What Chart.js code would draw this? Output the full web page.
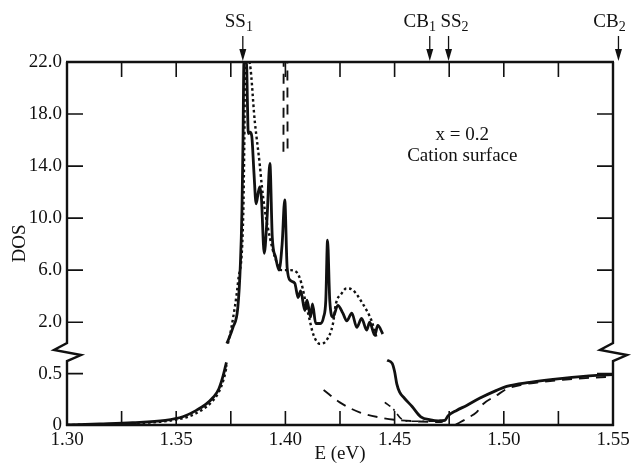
<!DOCTYPE html>
<html>
<head>
<meta charset="utf-8">
<script src="https://cdn.jsdelivr.net/npm/chart.js@4.4.1/dist/chart.umd.min.js"></script>
<style>
html,body{margin:0;padding:0;background:#fff;}
#wrap{width:640px;height:466px;position:relative;}
</style>
</head>
<body>
<div id="wrap"><canvas id="c" width="640" height="466"></canvas></div>
<script>
// ---------------- DATA ----------------
// x axis (energy, eV)
const xLabelValues = [1.30, 1.35, 1.40, 1.45, 1.50, 1.55];
const xTickMarks = [1.325, 1.35, 1.375, 1.40, 1.425, 1.45, 1.475, 1.50, 1.525];
// y axis (DOS) — broken axis: lower section 0..0.5, upper section 2..22
const yTickValues = [0, 0.5, 2, 6, 10, 14, 18, 22];
const yTickSections = ['lower', 'lower', 'upper', 'upper', 'upper', 'upper', 'upper', 'upper'];
const yTickLabels = ['0', '0.5', '2.0', '6.0', '10.0', '14.0', '18.0', '22.0'];

// solid curve
const solidLowerLeftE = [1.300, 1.315, 1.330, 1.345, 1.353, 1.359, 1.3635, 1.3670, 1.3695, 1.3715, 1.3730];
const solidLowerLeftV = [0.000, 0.010, 0.022, 0.045, 0.080, 0.140, 0.200, 0.270, 0.350, 0.480, 0.610];
const solidUpperE = [1.3732, 1.3760, 1.3782, 1.3794, 1.3801, 1.3806, 1.3810, 1.3822, 1.3826, 1.3830, 1.3838, 1.3846, 1.3856, 1.3866, 1.3876, 1.3883, 1.3890, 1.3903, 1.3916, 1.3929, 1.3940, 1.3955, 1.3971, 1.3985, 1.3997, 1.4008, 1.4023, 1.4043, 1.4058, 1.4070, 1.4089, 1.4099, 1.4115, 1.4124, 1.4139, 1.4160, 1.4175, 1.4185, 1.4193, 1.4203, 1.4218, 1.4240, 1.4263, 1.4281, 1.4304, 1.4327, 1.4349, 1.4372, 1.4386, 1.4409, 1.4423, 1.4446];
const solidUpperV = [0.36, 1.6, 3.1, 6.5, 10.5, 16.0, 22.0, 22.0, 19.0, 16.5, 16.6, 16.3, 13.5, 11.1, 12.0, 12.4, 11.6, 7.3, 10.0, 14.2, 8.5, 7.0, 6.0, 8.0, 11.4, 6.2, 5.2, 5.0, 3.9, 4.4, 2.9, 3.7, 2.4, 3.4, 1.9, 1.9, 2.4, 3.7, 8.3, 3.7, 2.4, 3.3, 2.7, 2.1, 2.7, 1.6, 2.3, 1.4, 2.0, 1.0, 1.75, 1.1];
const solidLowerRightE = [1.4466, 1.4489, 1.4500, 1.4510, 1.4523, 1.4545, 1.4580, 1.4620, 1.4665, 1.4700, 1.4730, 1.4745, 1.4784, 1.4830, 1.4889, 1.4967, 1.5013, 1.5118, 1.5269, 1.5425, 1.5500];
const solidLowerRightV = [0.63, 0.60, 0.52, 0.40, 0.32, 0.26, 0.18, 0.08, 0.05, 0.040, 0.045, 0.09, 0.142, 0.19, 0.26, 0.337, 0.376, 0.415, 0.454, 0.483, 0.49];

// dotted curve
const dottedLowerE = [1.300, 1.320, 1.335, 1.348, 1.356, 1.362, 1.3665, 1.3695, 1.3718, 1.3732];
const dottedLowerV = [0.000, 0.008, 0.020, 0.045, 0.085, 0.150, 0.230, 0.320, 0.450, 0.580];
const dottedUpperE = [1.3737, 1.3753, 1.3784, 1.3807, 1.3812, 1.3816, 1.3834, 1.3860, 1.3883, 1.3891, 1.3906, 1.3929, 1.3952, 1.3982, 1.4020, 1.4051, 1.4074, 1.4094, 1.4108, 1.4127, 1.4157, 1.4188, 1.4218, 1.4231, 1.4257, 1.4280, 1.4310, 1.4355, 1.4394, 1.4417];
const dottedUpperV = [0.36, 1.6, 5.2, 10.3, 16.0, 22.0, 22.0, 17.4, 14.05, 12.65, 10.6, 8.5, 7.0, 6.0, 6.0, 5.85, 4.95, 3.4, 2.4, 1.1, 0.34, 0.6, 1.9, 3.4, 4.2, 4.6, 4.45, 3.4, 2.13, 0.85];

// long-dashed curve
const dashSpikeE = [1.3991, 1.3992, 1.4009, 1.4010];
const dashSpikeV = [15.1, 22.0, 22.0, 15.1];
const dashLowerAE = [1.4175, 1.4249, 1.4340, 1.4432, 1.4510, 1.4615, 1.4693, 1.4720];
const dashLowerAV = [0.34, 0.22, 0.123, 0.073, 0.049, 0.034, 0.029, 0.030];
const dashLowerBE = [1.4780, 1.4800, 1.4840, 1.4876, 1.4898, 1.4967, 1.5013, 1.5080, 1.5160, 1.5270, 1.5400, 1.5500];
const dashLowerBV = [0.005, 0.027, 0.075, 0.125, 0.190, 0.288, 0.350, 0.390, 0.415, 0.440, 0.460, 0.470];

// dash-dot curve
const dashDotE = [1.4455, 1.4493, 1.4531, 1.4569, 1.4661, 1.4714];
const dashDotV = [0.22, 0.157, 0.06, 0.037, 0.037, 0.044];

// band-edge markers at top
const markerE = [1.3805, 1.4661, 1.4747, 1.5525];
const markerMain = ['SS', 'CB', 'SS', 'CB'];
const markerSub = ['1', '1', '2', '2'];

// annotation
const annotLines = ['x = 0.2', 'Cation surface'];
const annotE = 1.481;
const annotV = [16.0, 14.4];

// ---------------- LAYOUT / STYLE ----------------
const INK = '#111111';
const SERIF = '"Liberation Serif", "Times New Roman", serif';
const LOWER_K = 7.9;      // virtual units per DOS unit in lower section
const UPPER_OFF = 5.9;    // virtual offset of upper section
const BREAK_AT = 0.71;    // lower-section value where the axis break is drawn
const markerDx = [-4, -10, 6, -9];

function toVirtual(v, section) {
  return section === 'lower' ? v * LOWER_K : v + UPPER_OFF;
}

const styles = {
  solid:   {borderWidth: 2.8, borderDash: []},
  dotted:  {borderWidth: 2.4, borderDash: [2.6, 2.8]},
  longdash:{borderWidth: 1.9, borderDash: [10, 7]},
  dashdot: {borderWidth: 1.6, borderDash: [7, 4, 2, 4]}
};

const segments = [
  {E: dashSpikeE, V: dashSpikeV, section: 'upper', style: 'longdash', tension: 0},
  {E: dashLowerAE, V: dashLowerAV, section: 'lower', style: 'longdash'},
  {E: dashLowerBE, V: dashLowerBV, section: 'lower', style: 'longdash'},
  {E: dashDotE, V: dashDotV, section: 'lower', style: 'dashdot'},
  {E: dottedLowerE, V: dottedLowerV, section: 'lower', style: 'dotted'},
  {E: dottedUpperE, V: dottedUpperV, section: 'upper', style: 'dotted'},
  {E: solidLowerLeftE, V: solidLowerLeftV, section: 'lower', style: 'solid'},
  {E: solidUpperE, V: solidUpperV, section: 'upper', style: 'solid'},
  {E: solidLowerRightE, V: solidLowerRightV, section: 'lower', style: 'solid'}
];

const datasets = segments.map(s => {
  const st = styles[s.style];
  const ds = {
    data: s.E.map((e, i) => ({x: e, y: toVirtual(s.V[i], s.section)})),
    showLine: true,
    fill: false,
    borderColor: INK,
    backgroundColor: INK,
    borderWidth: st.borderWidth,
    borderDash: st.borderDash,
    pointRadius: 0,
    pointHoverRadius: 0,
    borderCapStyle: 'butt',
    borderJoinStyle: 'round'
  };
  if (s.tension === 0) { ds.tension = 0; } else { ds.cubicInterpolationMode = 'monotone'; }
  return ds;
});

// ---------------- FRAME PLUGIN ----------------
const framePlugin = {
  id: 'frame',
  afterDraw(chart) {
    const {ctx, chartArea: {left, right, top, bottom}, scales: {x, y}} = chart;
    ctx.save();
    ctx.strokeStyle = INK;
    ctx.fillStyle = INK;
    ctx.lineCap = 'butt';
    ctx.lineJoin = 'miter';

    // ticks
    ctx.lineWidth = 1.6;
    ctx.beginPath();
    xTickMarks.forEach(e => {
      const px = x.getPixelForValue(e);
      ctx.moveTo(px, top); ctx.lineTo(px, top + 15);
      ctx.moveTo(px, bottom); ctx.lineTo(px, bottom - 14);
    });
    yTickValues.forEach((v, i) => {
      if (i === 0 || i === yTickValues.length - 1) return;
      const py = y.getPixelForValue(toVirtual(v, yTickSections[i]));
      ctx.moveTo(left, py); ctx.lineTo(left + 16, py);
      ctx.moveTo(right, py); ctx.lineTo(right - 16, py);
    });
    ctx.stroke();

    // frame with breaks
    const c = y.getPixelForValue(toVirtual(BREAK_AT, 'lower'));
    ctx.lineWidth = 2.4;
    ctx.beginPath();
    ctx.moveTo(left - 1, top); ctx.lineTo(right + 1, top);
    ctx.moveTo(left - 1, bottom); ctx.lineTo(right + 1, bottom);
    [left, right].forEach(ax => {
      ctx.moveTo(ax, top);
      ctx.lineTo(ax, c - 9);
      ctx.lineTo(ax - 13, c - 2);
      ctx.lineTo(ax + 14, c + 3);
      ctx.lineTo(ax, c + 9);
      ctx.lineTo(ax, bottom + 1);
    });
    ctx.stroke();

    // markers (arrows + labels)
    const mainFont = '19px ' + SERIF;
    const subFont = '14px ' + SERIF;
    markerE.forEach((e, i) => {
      const px = x.getPixelForValue(e);
      ctx.lineWidth = 1.3;
      ctx.beginPath();
      ctx.moveTo(px, 36); ctx.lineTo(px, top - 8);
      ctx.stroke();
      ctx.beginPath();
      ctx.moveTo(px, top - 1);
      ctx.lineTo(px - 3.5, top - 13);
      ctx.lineTo(px + 3.5, top - 13);
      ctx.closePath();
      ctx.fill();
      ctx.font = mainFont;
      const w1 = ctx.measureText(markerMain[i]).width;
      ctx.font = subFont;
      const w2 = ctx.measureText(markerSub[i]).width;
      const x0 = px + markerDx[i] - (w1 + w2) / 2;
      ctx.textAlign = 'left';
      ctx.textBaseline = 'alphabetic';
      ctx.font = mainFont;
      ctx.fillText(markerMain[i], x0, 27);
      ctx.font = subFont;
      ctx.fillText(markerSub[i], x0 + w1, 31);
    });

    // annotation
    ctx.font = '19px ' + SERIF;
    ctx.textAlign = 'center';
    ctx.textBaseline = 'alphabetic';
    annotLines.forEach((t, i) => {
      ctx.fillText(t, x.getPixelForValue(annotE), y.getPixelForValue(toVirtual(annotV[i], 'upper')));
    });
    ctx.restore();
  }
};

// ---------------- CHART ----------------
new Chart(document.getElementById('c').getContext('2d'), {
  type: 'scatter',
  data: {datasets},
  options: {
    responsive: false,
    animation: false,
    devicePixelRatio: 1,
    layout: {padding: {left: 0, right: 27, top: 62, bottom: 0}},
    plugins: {legend: {display: false}, tooltip: {enabled: false}},
    events: [],
    scales: {
      x: {
        type: 'linear',
        min: 1.30,
        max: 1.55,
        grid: {display: false, drawTicks: false},
        border: {display: false},
        afterBuildTicks: s => { s.ticks = xLabelValues.map(v => ({value: v})); },
        afterFit: s => { s.height = 41; },
        ticks: {
          autoSkip: false, maxRotation: 0, padding: 4, color: INK,
          font: {family: SERIF, size: 19},
          callback: v => Number(v).toFixed(2)
        },
        title: {display: true, text: 'E (eV)', color: INK,
                font: {family: SERIF, size: 19}, padding: {top: 0, bottom: 1}}
      },
      y: {
        type: 'linear',
        min: 0,
        max: 22 + UPPER_OFF,
        grid: {display: false, drawTicks: false},
        border: {display: false},
        afterBuildTicks: s => { s.ticks = yTickValues.map((v, i) => ({value: toVirtual(v, yTickSections[i])})); },
        afterFit: s => { s.width = 67; },
        ticks: {
          autoSkip: false, padding: 5, color: INK,
          font: {family: SERIF, size: 19},
          callback: (v, i) => yTickLabels[i]
        },
        title: {display: true, text: 'DOS', color: INK,
                font: {family: SERIF, size: 19}, padding: {top: 9, bottom: 0}}
      }
    }
  },
  plugins: [framePlugin]
});
</script>
</body>
</html>
